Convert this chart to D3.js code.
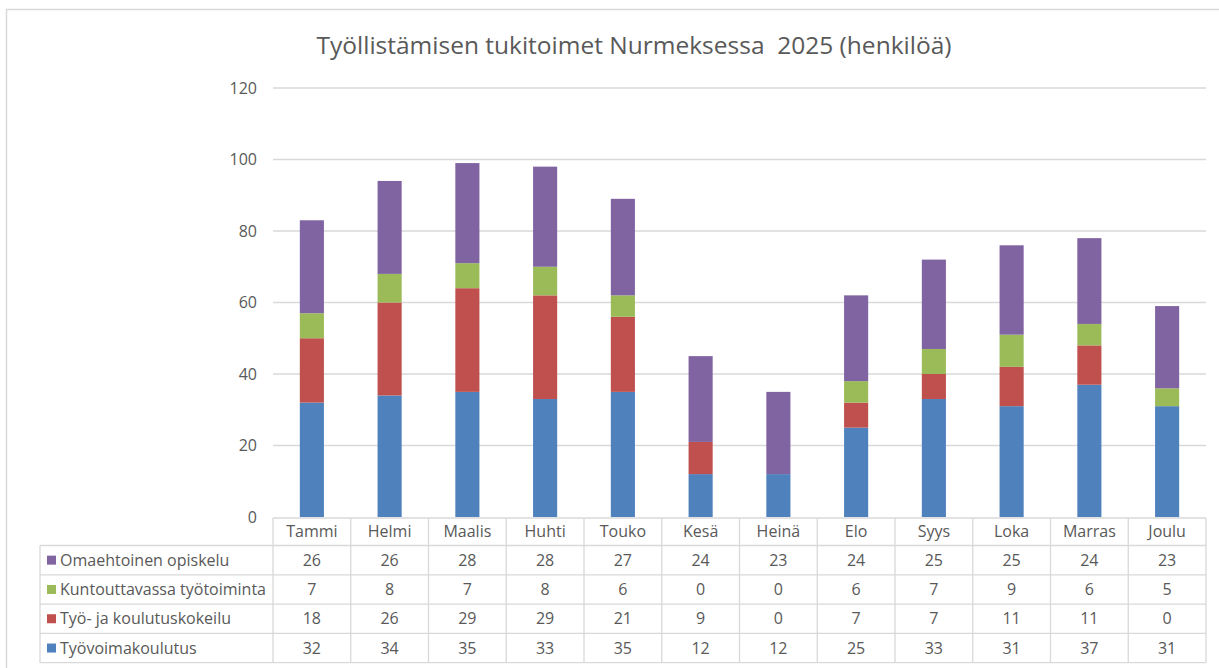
<!DOCTYPE html>
<html>
<head>
<meta charset="utf-8">
<script src="https://cdn.jsdelivr.net/npm/d3@7"></script>
<style>
  body { margin: 0; background: #fff; }
  svg text { font-family: "Open Sans", Lato, sans-serif; fill: #595959; }
</style>
</head>
<body>
<svg id="chart" width="1219" height="668"></svg>
<script>
// chart data
const months = ["Tammi", "Helmi", "Maalis", "Huhti", "Touko", "Kesä", "Heinä", "Elo", "Syys", "Loka", "Marras", "Joulu"];
const seriesNames = ["Työvoimakoulutus", "Työ- ja koulutuskokeilu", "Kuntouttavassa työtoiminta", "Omaehtoinen opiskelu"];
const tyovoimakoulutus = [32, 34, 35, 33, 35, 12, 12, 25, 33, 31, 37, 31];
const kokeilu = [18, 26, 29, 29, 21, 9, 0, 7, 7, 11, 11, 0];
const kuntouttava = [7, 8, 7, 8, 6, 0, 0, 6, 7, 9, 6, 5];
const omaehtoinen = [26, 26, 28, 28, 27, 24, 23, 24, 25, 25, 24, 23];
const yTicks = [0, 20, 40, 60, 80, 100, 120];
const colors = ["#4f81bd", "#c0504d", "#9bbb59", "#8064a2"];

const seriesValues = [tyovoimakoulutus, kokeilu, kuntouttava, omaehtoinen];

let svg = d3.select("#chart");

// outer chart frame (extends past the window on the right and bottom)
svg.append("rect")
    .attr("x", 6.5).attr("y", 9.5)
    .attr("width", 1240).attr("height", 700)
    .attr("fill", "none")
    .attr("stroke", "#d9d9d9")
    .attr("stroke-width", 1.5);

svg.append("text")
    .attr("x", 634).attr("y", 54)
    .attr("text-anchor", "middle")
    .style("font-size", "24.5px")
    .style("white-space", "pre")
    .text("Työllistämisen tukitoimet Nurmeksessa  2025 (henkilöä)");

let plotLeft = 273, plotRight = 1206, plotTop = 88, plotBottom = 517;
let fontSize = "16px";

let x = d3.scaleBand().domain(months).range([plotLeft, plotRight]).paddingInner(0.69).paddingOuter(0.345);
let col = d3.scaleBand().domain(months).range([plotLeft, plotRight]);
let y = d3.scaleLinear().domain([0, 120]).range([plotBottom, plotTop]);

// gridlines
svg.append("g")
    .selectAll("line")
    .data(yTicks.filter(d => d > 0))
    .enter()
    .append("line")
    .attr("x1", plotLeft).attr("x2", plotRight)
    .attr("y1", d => y(d)).attr("y2", d => y(d))
    .attr("stroke", "#d9d9d9")
    .attr("stroke-width", 1.3);

// y axis labels
let yAxis = svg.append("g")
    .attr("transform", "translate(" + (plotLeft - 16) + ",0)")
    .call(d3.axisLeft(y).tickValues(yTicks).tickSize(0).tickPadding(0));
yAxis.select(".domain").remove();
yAxis.selectAll("text")
    .style("font-size", fontSize)
    .style("fill", "#595959")
    .style("font-family", "'Open Sans', sans-serif");

// stacked bars
let rows = months.map((m, i) => {
    let r = { month: m };
    seriesNames.forEach((s, k) => { r[s] = seriesValues[k][i]; });
    return r;
});
let stack = d3.stack().keys(seriesNames);
let layers = stack(rows);

let g = svg.append("g");
layers.forEach((layer, k) => {
    g.selectAll(".bar" + k)
        .data(layer)
        .enter()
        .append("rect")
        .attr("x", d => x(d.data.month))
        .attr("width", x.bandwidth())
        .attr("y", d => y(d[1]))
        .attr("height", d => y(d[0]) - y(d[1]))
        .attr("fill", colors[k]);
});

// data table
let headerTop = 518, headerH = 27.5, rowH = 29.3, tableLeft = 40;
let tableRows = seriesNames.slice().reverse();
let tableVals = seriesValues.slice().reverse();
let tableColors = colors.slice().reverse();
let tableBottom = headerTop + headerH + rowH * tableRows.length;
let lineColor = "#d9d9d9";

let t = svg.append("g");
// horizontal lines
t.append("line").attr("x1", plotLeft).attr("x2", plotRight).attr("y1", headerTop).attr("y2", headerTop)
    .attr("stroke", lineColor).attr("stroke-width", 1.3);
for (let i = 0; i <= tableRows.length; i++) {
    let yy = headerTop + headerH + i * rowH;
    t.append("line").attr("x1", tableLeft).attr("x2", plotRight).attr("y1", yy).attr("y2", yy)
        .attr("stroke", lineColor).attr("stroke-width", 1.3);
}
// vertical lines
t.append("line").attr("x1", tableLeft).attr("x2", tableLeft).attr("y1", headerTop + headerH).attr("y2", tableBottom)
    .attr("stroke", lineColor).attr("stroke-width", 1.3);
months.concat([null]).forEach((m, i) => {
    let xx = m ? col(m) : plotRight;
    t.append("line").attr("x1", xx).attr("x2", xx).attr("y1", headerTop).attr("y2", tableBottom)
        .attr("stroke", lineColor).attr("stroke-width", 1.3);
});

// month headers
t.selectAll(".hdr")
    .data(months)
    .enter()
    .append("text")
    .attr("x", d => col(d) + col.bandwidth() / 2)
    .attr("y", headerTop + headerH / 2 + 5.5)
    .attr("text-anchor", "middle")
    .style("font-size", fontSize)
    .text(d => d);

tableRows.forEach((name, r) => {
    let cy = headerTop + headerH + r * rowH + rowH / 2;
    t.append("rect")
        .attr("x", tableLeft + 7).attr("y", cy - 4.5)
        .attr("width", 9).attr("height", 9)
        .attr("fill", tableColors[r]);
    t.append("text")
        .attr("x", tableLeft + 20).attr("y", cy + 5.5)
        .style("font-size", fontSize)
        .text(name);
    t.selectAll(".v" + r)
        .data(tableVals[r])
        .enter()
        .append("text")
        .attr("x", (d, i) => col(months[i]) + col.bandwidth() / 2)
        .attr("y", cy + 5.5)
        .attr("text-anchor", "middle")
        .style("font-size", fontSize)
        .text(d => d);
});
</script>
</body>
</html>
